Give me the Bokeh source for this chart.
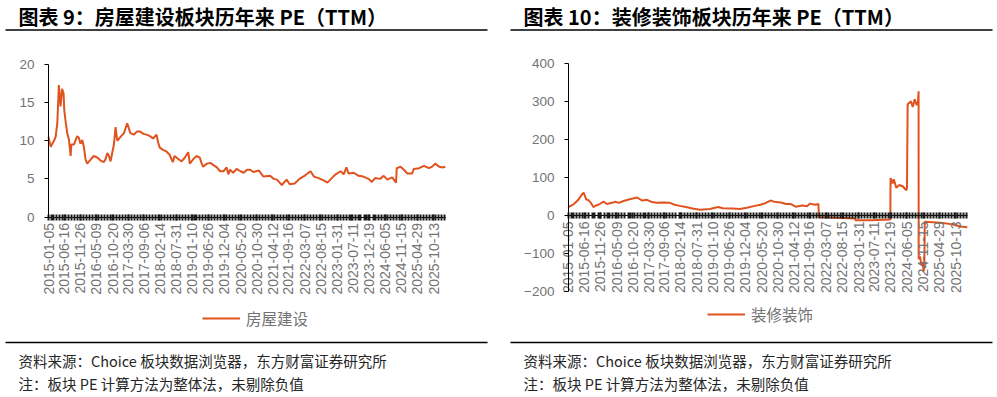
import math
import pandas as pd
from bokeh.plotting import figure
from bokeh.models import (FixedTicker, DatetimeTickFormatter, Range1d, Legend,
                          LegendItem, Label, BoxAnnotation)
from bokeh.layouts import row
from bokeh.embed import file_html
from bokeh.resources import INLINE

# ---------------- data ----------------
tick_dates = ["2015-01-05", "2015-06-16", "2015-11-26", "2016-05-09", "2016-10-20",
              "2017-03-30", "2017-09-06", "2018-02-14", "2018-07-31", "2019-01-10",
              "2019-06-26", "2019-12-04", "2020-05-20", "2020-10-30", "2021-04-12",
              "2021-09-16", "2022-03-07", "2022-08-15", "2023-01-31", "2023-07-11",
              "2023-12-19", "2024-06-05", "2024-11-15", "2025-04-29", "2025-10-13"]

house_dates = ["2015-01-05", "2015-01-27", "2015-03-02", "2015-03-19", "2015-04-05",
               "2015-04-21", "2015-05-08", "2015-05-24", "2015-06-08", "2015-06-15",
               "2015-06-29", "2015-07-15", "2015-08-01", "2015-08-19", "2015-08-26",
               "2015-09-21", "2015-10-25", "2015-11-10", "2015-11-28", "2015-12-16",
               "2016-01-01", "2016-01-18", "2016-02-03", "2016-03-08", "2016-04-10",
               "2016-05-17", "2016-06-20", "2016-07-24", "2016-08-10", "2016-08-28",
               "2016-09-13", "2016-09-30", "2016-10-18", "2016-11-03", "2016-11-20",
               "2016-12-07", "2017-01-10", "2017-02-13", "2017-03-19", "2017-04-20",
               "2017-05-24", "2017-06-27", "2017-07-29", "2017-09-01", "2017-10-03",
               "2017-11-06", "2017-12-08", "2018-01-12", "2018-01-28", "2018-02-14",
               "2018-03-19", "2018-04-22", "2018-05-24", "2018-06-27", "2018-07-15",
               "2018-08-22", "2018-09-25", "2018-10-29", "2018-12-02", "2018-12-18",
               "2019-01-23", "2019-02-26", "2019-03-30", "2019-04-16", "2019-05-02",
               "2019-06-12", "2019-07-16", "2019-08-17", "2019-09-20", "2019-10-23",
               "2019-11-26", "2019-12-29", "2020-01-15", "2020-02-02", "2020-03-05",
               "2020-04-09", "2020-05-18", "2020-06-20", "2020-07-24", "2020-08-26",
               "2020-09-28", "2020-11-20", "2021-01-08", "2021-03-17", "2021-04-23",
               "2021-05-26", "2021-07-15", "2021-09-01", "2021-10-03", "2021-11-23",
               "2022-01-11", "2022-03-14", "2022-05-04", "2022-06-07", "2022-07-25",
               "2022-09-13", "2022-10-24", "2022-12-06", "2023-01-16", "2023-03-06",
               "2023-04-08", "2023-05-05", "2023-05-28", "2023-07-19", "2023-09-06",
               "2023-10-25", "2023-12-18", "2024-01-20", "2024-02-22", "2024-04-14",
               "2024-05-20", "2024-06-27", "2024-08-15", "2024-09-23", "2024-09-30",
               "2024-11-08", "2024-12-12", "2025-01-16", "2025-03-06", "2025-03-23",
               "2025-05-16", "2025-07-05", "2025-08-24", "2025-09-27", "2025-10-26",
               "2025-12-08", "2026-01-10", "2026-02-08"]
house_pe = [10.5, 9.2, 10.0, 10.5, 12.3,
            17.3, 14.5, 16.8, 16.2, 14.0,
            12.5, 11.0, 10.2, 8.0, 9.5,
            9.5, 10.6, 10.4, 9.6, 10.1,
            9.2, 7.6, 7.0, 7.5, 8.0,
            7.8, 7.4, 7.2, 7.6, 8.4,
            8.0, 7.3, 8.5, 9.5, 11.8,
            10.0, 10.5, 11.0, 12.3, 11.0,
            10.8, 11.2, 11.2, 10.9, 10.8,
            10.6, 10.3, 10.8, 9.8, 9.1,
            8.8, 8.6, 8.2, 7.2, 8.0,
            7.6, 7.3, 7.8, 8.5, 7.0,
            7.6, 8.0, 7.8, 7.1, 6.6,
            7.0, 7.1, 6.8, 6.5, 6.0,
            6.0, 6.5, 5.6, 6.2, 5.8,
            6.3, 6.0, 5.8, 6.2, 6.2,
            5.9, 6.1, 5.3, 5.4, 5.0,
            4.9, 4.2, 4.9, 4.3, 4.4,
            5.0, 5.5, 6.0, 5.3, 5.1,
            4.8, 4.5, 5.1, 5.6, 6.0,
            5.6, 6.5, 5.7, 5.8, 5.4,
            5.3, 5.0, 4.6, 5.1, 5.0,
            5.4, 4.9, 5.2, 4.5, 6.4,
            6.6, 6.2, 5.7, 5.7, 6.3,
            6.4, 6.7, 6.4, 6.6, 7.0,
            6.6, 6.5, 6.6]

deco_dates = ["2015-01-05", "2015-02-10", "2015-03-01", "2015-04-17", "2015-05-21",
              "2015-06-08", "2015-06-20", "2015-07-04", "2015-07-27", "2015-08-20",
              "2015-09-15", "2015-10-10", "2015-11-06", "2015-12-27", "2016-01-31",
              "2016-03-22", "2016-04-26", "2016-05-28", "2016-07-18", "2016-09-07",
              "2016-10-30", "2016-12-03", "2017-01-23", "2017-03-13", "2017-05-02",
              "2017-06-20", "2017-08-23", "2017-10-30", "2017-12-18", "2018-02-08",
              "2018-04-13", "2018-06-17", "2018-08-31", "2018-12-11", "2019-03-04",
              "2019-04-24", "2019-07-29", "2019-10-12", "2019-12-22", "2020-03-12",
              "2020-05-08", "2020-06-27", "2020-08-18", "2020-10-08", "2020-12-02",
              "2021-01-24", "2021-03-10", "2021-04-29", "2021-07-06", "2021-08-25",
              "2021-09-24", "2021-11-13", "2021-12-19", "2021-12-22", "2022-06-01",
              "2022-12-28", "2022-12-30", "2023-06-01", "2023-12-19", "2023-12-21",
              "2024-01-10", "2024-01-23", "2024-02-17", "2024-03-20", "2024-04-26",
              "2024-05-29", "2024-06-05", "2024-06-12", "2024-07-15", "2024-08-03",
              "2024-08-22", "2024-09-12", "2024-09-25", "2024-10-01", "2024-10-02",
              "2024-10-15", "2024-10-30", "2024-11-12", "2024-11-20", "2024-11-28",
              "2024-12-03", "2025-05-10", "2025-09-19", "2025-12-01", "2026-02-08"]
deco_pe = [22, 27, 30, 42, 55,
           60, 52, 42, 40, 33,
           22, 26, 28, 36, 30,
           33, 36, 33, 38, 42,
           45, 47, 39, 41, 35,
           33, 34, 33, 28, 25,
           22, 18, 15, 17, 22,
           19, 18, 17, 20, 25,
           28, 32, 39, 35, 34,
           30, 30, 23, 26, 24,
           31, 28, 30, -5, -6,
           -8, -13, -13, -11, 98,
           84, 95, 73, 80, 76,
           66, 72, 292, 300, 285,
           305, 290, 300, 326, -115,
           -108, -130, -122, -148, -135,
           -17, -19, -24, -29, -31]

house_ticks = [0, 5, 10, 15, 20]
deco_ticks = [-200, -100, 0, 100, 200, 300, 400]

title_left = "图表 9：房屋建设板块历年来 PE（TTM）"
title_right = "图表 10：装修装饰板块历年来 PE（TTM）"
source_text = "资料来源：Choice 板块数据浏览器，东方财富证券研究所"
note_text = "注：板块 PE 计算方法为整体法，未剔除负值"

x_start, x_end = "2015-01-05", "2026-02-10"

# ---------------- styling ----------------
LINE = "#E0531F"
LABEL = "#737373"
LATIN = "Liberation Sans"
CJK = "Noto Sans CJK SC"
H = 397


def ms(d):
    return float(pd.Timestamp(d).value // 10**6)


def panel(dates, vals, yticks, ylo, yhi, name, title, W, ax_left, ax_right,
          y_top_px, y_bot_px, rule_l, rule_r, text_x, leg_xy):
    # pixel geometry of the plotting area inside this panel (from its top-left)
    span = ms(x_end) - ms(x_start)
    k = span / (ax_right - ax_left)
    xr = Range1d(ms(x_start) - ax_left * k, ms(x_end) + (W - ax_right) * k)
    s = (y_bot_px - y_top_px) / (yhi - ylo)
    yr = Range1d(ylo - (H - y_bot_px) / s, yhi + y_top_px / s)

    p = figure(width=W, height=H, x_axis_type="datetime", x_range=xr, y_range=yr,
               output_backend="svg", toolbar_location=None, title=None,
               min_border_left=0, min_border_right=0, min_border_top=0,
               min_border_bottom=0)
    p.outline_line_color = None
    p.grid.visible = False
    r = p.line(x=pd.to_datetime(dates), y=vals, line_color=LINE, line_width=2)

    # x axis through y = 0
    minors = [ms(d) for d in pd.date_range(x_start, x_end, freq="MS")]
    xa = p.xaxis[0]
    xa.fixed_location = 0
    xa.bounds = (ms(x_start), ms(x_end))
    xa.ticker = FixedTicker(ticks=[ms(d) for d in tick_dates], minor_ticks=minors)
    fmt = "%Y-%m-%d"
    xa.formatter = DatetimeTickFormatter(
        microseconds=fmt, milliseconds=fmt, seconds=fmt, minsec=fmt, minutes=fmt,
        hourmin=fmt, hours=fmt, days=fmt, months=fmt, years=fmt,
        strip_leading_zeros=False)
    xa.major_label_orientation = math.pi / 2
    xa.major_label_standoff = 3
    xa.major_label_text_font = LATIN
    xa.major_label_text_font_size = "14px"
    xa.major_label_text_color = LABEL
    xa.axis_line_color = "#000000"
    xa.major_tick_line_color = "#1a1a1a"
    xa.minor_tick_line_color = "#1a1a1a"
    xa.major_tick_line_width = 2
    xa.minor_tick_line_width = 2
    xa.major_tick_in = 3
    xa.major_tick_out = 3
    xa.minor_tick_in = 3
    xa.minor_tick_out = 3

    # y axis at the first date
    ya = p.yaxis[0]
    ya.fixed_location = ms(x_start)
    ya.bounds = (ylo, yhi)
    ya.ticker = FixedTicker(ticks=yticks)
    ya.major_label_text_font = LATIN
    ya.major_label_text_font_size = "13.5px"
    ya.major_label_text_color = LABEL
    ya.axis_line_color = "#000000"
    ya.major_tick_line_color = "#000000"
    ya.major_tick_in = 0
    ya.major_tick_out = 4
    ya.minor_tick_line_color = None
    ya.major_label_standoff = 10

    leg = Legend(items=[LegendItem(label=name, renderers=[r])], location=leg_xy,
                 orientation="horizontal", padding=0, margin=0, spacing=0,
                 glyph_width=38, glyph_height=16, label_standoff=6,
                 label_text_font=CJK, label_text_font_size="15.5px",
                 label_text_color=LABEL, border_line_color=None,
                 background_fill_alpha=0)
    p.add_layout(leg)

    # title, rules and footnotes (screen units measured from the panel's bottom-left)
    p.add_layout(Label(x=text_x, y=H - 16, x_units="screen", y_units="screen", text=title,
                       text_font=CJK, text_font_style="bold", text_font_size="20px",
                       text_baseline="middle", text_color="#000000"))
    for top_px in (28.8, 341.3):
        p.add_layout(BoxAnnotation(left=rule_l, right=rule_r, top=H - top_px,
                                   bottom=H - top_px - 1.5, left_units="screen",
                                   right_units="screen", top_units="screen",
                                   bottom_units="screen", fill_color="#000000",
                                   fill_alpha=1.0, line_color=None))
    for txt, cy in ((source_text, 359.5), (note_text, 382.5)):
        p.add_layout(Label(x=text_x, y=H - cy, x_units="screen", y_units="screen",
                           text=txt, text_font=CJK, text_font_size="14.5px",
                           text_baseline="middle", text_color="#262626"))
    return p


p1 = panel(house_dates, house_pe, house_ticks, 0, 20, "房屋建设", title_left,
           498, 48, 445, 64, 216.5, 5, 487, 18, (202, 68))
p2 = panel(deco_dates, deco_pe, deco_ticks, -200, 400, "装修装饰", title_right,
           499, 70, 469, 62.7, 291, 12, 494, 25, (209, 72))

layout = row(p1, p2, spacing=0)
open("out.html", "w").write(file_html(layout, INLINE))
